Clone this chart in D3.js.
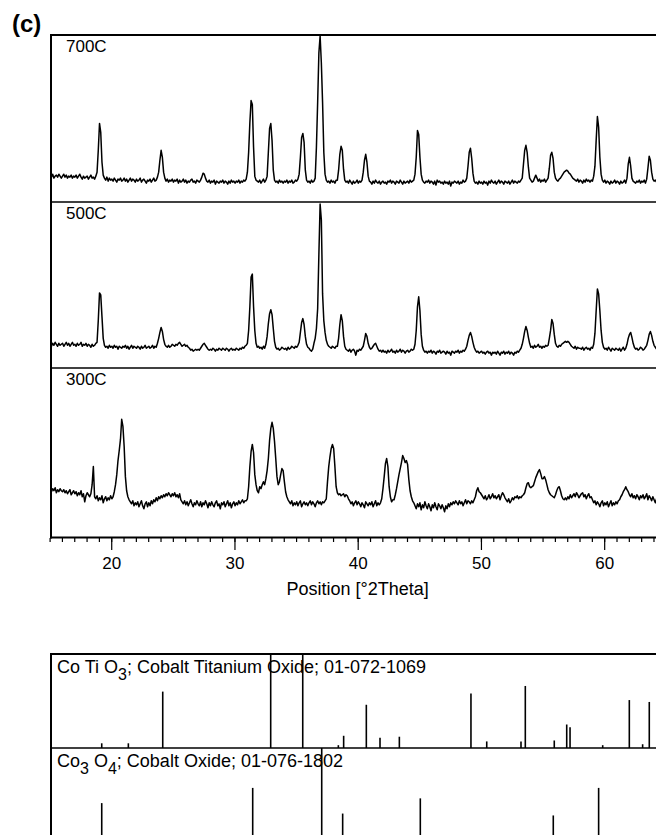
<!DOCTYPE html>
<html>
<head>
<meta charset="utf-8">
<script src="https://cdn.jsdelivr.net/npm/d3@7"></script>
<style>
  body { margin: 0; background: #fff; }
  svg { display: block; font-family: Arial, "Liberation Sans", sans-serif; }
  text { white-space: pre; }
</style>
</head>
<body>
<svg id="chart" width="656" height="835"></svg>
<script>
// scan grid: first angle and step in degrees 2theta
var angleStart = 15.05, angleStep = 0.1;
var countMax = 168;

// counts, one line per degree (x.0 ... x.9)
var scan700 = [
  27,25,28,24,26,27,25,28,26,24,
  26,28,25,27,24,26,25,27,24,26,
  25,27,24,26,28,25,23,26,24,25,
  26,23,25,27,24,25,23,26,30,52,
  79,70,40,27,24,22,25,21,24,22,
  23,21,24,22,20,23,22,24,21,22,
  24,21,23,20,22,24,21,23,22,20,
  23,21,22,24,20,22,23,21,19,22,
  21,23,20,22,24,21,22,25,30,42,
  52,45,30,24,21,23,20,22,21,23,
  20,22,21,23,19,22,20,21,23,20,
  22,19,21,20,22,23,20,21,19,22,
  21,20,22,25,29,28,24,21,20,22,
  19,21,20,22,18,21,20,19,21,20,
  22,19,21,20,18,21,19,22,20,21,
  19,21,20,22,19,21,20,22,21,23,
  30,50,80,102,98,55,26,22,21,20,
  22,19,21,23,20,22,26,50,74,79,
  62,32,22,20,21,19,22,20,21,19,
  21,20,22,19,21,20,22,19,20,22,
  21,23,28,45,65,69,60,32,22,20,
  21,19,22,20,21,24,55,100,150,167,
  140,100,50,28,22,20,21,19,22,20,
  21,19,22,22,32,48,56,52,33,22,
  20,21,19,22,20,18,21,19,20,22,
  19,21,20,22,30,42,48,40,26,21,
  20,18,21,19,22,20,19,21,18,20,
  21,19,20,18,21,20,22,19,21,20,
  18,21,20,19,22,20,18,21,19,20,
  21,19,22,20,21,22,28,45,72,68,
  45,28,22,20,19,21,20,22,19,21,
  20,18,21,17,22,20,21,19,20,18,
  21,19,20,18,21,16,20,19,21,20,
  19,21,18,20,19,22,20,21,24,36,
  50,54,44,29,21,19,20,18,21,19,
  20,18,21,19,20,17,21,19,22,20,
  19,21,18,20,22,19,21,20,18,21,
  20,19,21,18,20,22,19,21,20,19,
  21,20,22,24,38,52,57,50,35,24,
  22,20,21,24,27,24,21,23,20,22,
  21,23,20,22,24,34,47,50,44,30,
  24,22,21,23,24,26,28,30,31,32,
  31,29,28,26,24,23,22,21,23,20,
  22,21,19,22,20,23,21,22,20,22,
  21,26,36,62,86,75,45,28,22,20,
  22,19,21,20,18,21,19,20,22,19,
  21,20,18,21,19,20,22,19,24,38,
  45,36,24,21,20,19,21,20,22,19,
  21,20,22,19,23,34,46,42,30,23,
  21,22,20,19,21,22,20,21,19,22
];

var scan500 = [
  24,22,25,23,26,24,22,25,23,24,
  25,22,24,26,23,25,22,24,26,23,
  24,22,25,23,24,26,22,24,23,25,
  22,24,23,21,24,22,23,25,26,48,
  76,74,52,30,23,21,22,20,23,21,
  22,20,23,21,22,19,22,21,20,22,
  21,23,20,22,19,21,23,20,22,21,
  20,22,21,19,22,20,21,23,20,21,
  22,20,21,23,20,22,21,25,30,36,
  41,37,29,24,22,21,23,21,22,24,
  23,22,24,23,25,26,24,22,23,24,
  22,23,21,20,18,19,17,18,19,18,
  19,18,20,22,24,25,23,21,19,18,
  19,18,20,19,17,19,18,20,19,18,
  20,19,18,20,19,17,19,20,18,19,
  18,20,19,18,20,19,21,20,22,23,
  25,38,62,92,95,62,38,25,21,22,
  20,21,19,22,20,24,32,45,55,59,
  54,40,27,21,19,20,18,19,21,20,
  19,20,18,21,19,20,22,21,20,22,
  21,23,26,36,46,50,44,32,24,21,
  20,18,17,19,25,30,40,60,115,166,
  150,75,48,36,28,24,22,21,20,22,
  21,20,22,22,30,44,54,48,32,22,
  19,18,17,19,16,18,19,17,13,18,
  17,19,18,20,22,28,35,32,25,21,
  19,20,22,24,25,22,19,17,18,16,
  18,16,17,15,18,16,17,19,16,17,
  15,18,16,17,19,16,18,17,15,17,
  18,16,17,19,18,19,24,38,62,72,
  58,34,22,18,16,17,15,17,16,18,
  15,17,16,14,17,16,18,15,16,17,
  16,14,17,15,16,13,17,16,15,17,
  16,18,15,17,16,18,17,19,22,28,
  33,36,32,26,21,18,16,17,15,16,
  17,15,16,14,16,17,15,16,13,16,
  15,16,14,17,15,13,16,15,17,14,
  16,15,17,14,16,15,13,16,15,17,
  16,18,20,24,30,37,42,38,31,25,
  21,22,20,23,21,22,24,21,22,20,
  22,21,23,22,23,30,38,49,45,34,
  25,22,21,23,22,24,25,26,27,26,
  27,26,24,22,21,20,22,19,21,20,
  20,19,21,18,20,21,19,20,18,21,
  20,24,35,58,80,75,58,38,26,21,
  19,20,18,21,19,17,20,19,18,20,
  19,18,20,17,19,21,18,20,24,30,
  34,36,31,25,21,19,20,18,19,21,
  20,18,19,21,23,28,34,37,33,27,
  23,21,19,20,18,21,19,20,18,19
];

var scan300 = [
  47,45,48,46,49,44,47,45,48,46,
  45,47,44,46,43,45,47,42,44,46,
  43,45,41,44,42,46,40,43,35,41,
  44,42,40,43,52,70,40,38,41,36,
  39,37,41,34,38,40,36,39,37,41,
  38,40,45,52,62,76,86,97,117,110,
  90,60,46,40,37,35,33,36,31,34,
  32,35,30,33,36,31,28,33,35,30,
  34,31,36,33,37,35,39,36,40,38,
  41,39,42,40,43,41,44,42,40,43,
  41,44,40,42,39,43,37,35,33,36,
  32,35,31,34,37,33,30,34,32,36,
  33,31,35,30,34,32,36,33,29,34,
  31,35,32,30,34,36,31,33,28,34,
  32,35,30,33,36,31,34,29,33,35,
  31,34,32,36,33,35,37,34,36,36,
  38,50,70,85,92,84,62,52,46,44,
  50,48,52,55,52,58,66,78,96,108,
  114,108,95,78,60,52,55,62,68,66,
  55,45,40,37,35,33,36,31,34,32,
  35,31,34,36,30,33,35,32,34,31,
  34,36,32,35,33,30,34,36,33,35,
  32,35,34,36,38,55,70,80,88,92,
  88,70,50,44,42,43,41,42,43,40,
  42,41,38,36,33,35,31,34,36,32,
  35,33,30,34,32,29,35,33,31,34,
  32,35,30,33,36,31,34,32,34,38,
  48,60,73,78,70,50,40,35,37,37,
  42,48,55,62,68,74,81,78,74,76,
  72,57,46,40,36,34,31,28,33,30,
  34,27,32,29,35,31,28,33,30,26,
  32,29,34,30,27,33,31,28,32,29,
  25,31,28,33,30,34,32,35,33,36,
  34,32,36,33,35,31,34,37,33,36,
  35,33,36,34,37,40,46,49,45,44,
  42,40,38,41,37,39,42,38,40,43,
  39,41,38,40,42,37,41,44,42,39,
  37,35,38,34,36,39,37,40,39,41,
  38,40,39,41,42,44,49,53,54,50,
  49,50,51,55,59,62,65,67,63,58,
  58,60,57,52,47,44,42,41,40,39,
  42,46,49,50,46,41,38,37,39,37,
  40,38,42,39,41,43,40,44,42,39,
  41,43,44,40,42,38,41,43,39,40,
  37,34,36,32,35,33,30,34,36,31,
  34,32,35,30,33,36,31,34,32,35,
  33,36,37,40,42,45,47,50,47,45,
  42,40,43,39,41,38,42,40,37,41,
  39,42,38,40,43,37,41,39,36,40,
  37,34,38,35,33,36,34,37,35,34
];

var scanLabels = ['700C', '500C', '300C'];
var xTicks = [20, 30, 40, 50, 60];
var xTitle = 'Position [\u00b02Theta]';

// reference patterns: stick positions and relative intensity (%)
var cotio3Angles = [19.23, 21.39, 24.18, 32.94, 35.54, 38.43, 38.86, 40.70, 41.81, 43.38, 49.19,
                    50.47, 53.25, 53.60, 55.95, 56.96, 57.23, 59.88, 62.04, 63.12, 63.66];
var cotio3Rel = [5, 5, 60, 100, 100, 3, 13, 46, 11, 12, 58, 7, 7, 66, 8, 25, 22, 3, 51, 4, 49];
var co3o4Angles = [19.23, 31.48, 37.08, 38.78, 45.08, 55.87, 59.55];
var co3o4Rel = [42, 58, 100, 31, 47, 29, 58];

// name pieces: [text, isSubscript]
var cotio3Name = [['Co Ti O', 0], ['3', 1], ['; Cobalt Titanium Oxide; 01-072-1069', 0]];
var co3o4Name = [['Co', 0], ['3', 1], [' O', 0], ['4', 1], ['; Cobalt Oxide; 01-076-1802', 0]];

var width = 656, height = 835;
var axisX = 51;
var svg = d3.select('#chart');
var defs = svg.append('defs');

var x = d3.scaleLinear().domain([15, 65]).range([49.6, 665.8]);

var scanPanels = [
  { data: scan700, label: scanLabels[0], top: 35, bottom: 202 },
  { data: scan500, label: scanLabels[1], top: 202, bottom: 368 },
  { data: scan300, label: scanLabels[2], top: 368, bottom: 537 }
];

scanPanels.forEach(function(p, i){
  var y = d3.scaleLinear().domain([0, countMax]).range([p.bottom, p.top]);
  defs.append('clipPath').attr('id', 'scanclip' + i).append('rect')
    .attr('x', axisX).attr('y', p.top - 2)
    .attr('width', width).attr('height', p.bottom - p.top + 2);
  var line = d3.line()
    .x(function(d, j){ return x(angleStart + j * angleStep); })
    .y(function(d){ return y(d); });
  svg.append('path').datum(p.data)
    .attr('clip-path', 'url(#scanclip' + i + ')')
    .attr('d', line)
    .attr('fill', 'none')
    .attr('stroke', '#000')
    .attr('stroke-width', 1.5)
    .attr('stroke-linejoin', 'round');
  svg.append('text')
    .attr('x', 66).attr('y', p.top + 17)
    .attr('font-size', 17)
    .text(p.label);
});

// frame of the scans
svg.append('line').attr('x1', 50).attr('x2', width).attr('y1', 35).attr('y2', 35)
  .attr('stroke', '#000').attr('stroke-width', 2);
[202, 368].forEach(function(yy){
  svg.append('line').attr('x1', 50).attr('x2', width).attr('y1', yy).attr('y2', yy)
    .attr('stroke', '#000').attr('stroke-width', 1.3);
});
svg.append('line').attr('x1', 50).attr('x2', width).attr('y1', 537.5).attr('y2', 537.5)
  .attr('stroke', '#000').attr('stroke-width', 2);
svg.append('line').attr('x1', axisX).attr('x2', axisX).attr('y1', 34).attr('y2', 538.5)
  .attr('stroke', '#000').attr('stroke-width', 2);

// x axis: minor ticks each degree, labelled ticks each 10
var minorAxis = svg.append('g').attr('transform', 'translate(0,538)')
  .call(d3.axisBottom(x).tickValues(d3.range(15, 65)).tickSize(4).tickFormat(''));
var majorAxis = svg.append('g').attr('transform', 'translate(0,538)')
  .call(d3.axisBottom(x).tickValues(xTicks).tickSize(12).tickPadding(7).tickFormat(d3.format('d')));
[minorAxis, majorAxis].forEach(function(g){
  g.select('.domain').remove();
  g.selectAll('line').attr('stroke', '#000').attr('stroke-width', 1.2);
  g.selectAll('text').attr('font-size', 17).attr('fill', '#000')
    .attr('font-family', 'Arial, "Liberation Sans", sans-serif');
});

svg.append('text')
  .attr('x', x(40)).attr('y', 595)
  .attr('text-anchor', 'middle')
  .attr('font-size', 18)
  .text(xTitle);

svg.append('text')
  .attr('x', 12).attr('y', 32)
  .attr('font-size', 24).attr('font-weight', 'bold')
  .text('(c)');

// reference stick patterns
var refPanels = [
  { angles: cotio3Angles, rel: cotio3Rel, name: cotio3Name, top: 654, bottom: 748 },
  { angles: co3o4Angles, rel: co3o4Rel, name: co3o4Name, top: 748, bottom: 843 }
];

refPanels.forEach(function(p, i){
  var y = d3.scaleLinear().domain([0, 100]).range([p.bottom, p.top]);
  var t = svg.append('text').attr('x', 57).attr('y', p.top + 19).attr('font-size', 18);
  var shift = 0;
  p.name.forEach(function(part){
    var s = part[1] ? 7 : 0;
    t.append('tspan')
      .attr('dy', s - shift)
      .attr('font-size', part[1] ? 16 : 18)
      .text(part[0]);
    shift = s;
  });
  svg.append('g').selectAll('line')
    .data(d3.zip(p.angles, p.rel))
    .enter().append('line')
    .attr('x1', function(d){ return x(d[0]); })
    .attr('x2', function(d){ return x(d[0]); })
    .attr('y1', y(0))
    .attr('y2', function(d){ return y(d[1]); })
    .attr('stroke', '#000')
    .attr('stroke-width', 1.6);
});

svg.append('line').attr('x1', 50).attr('x2', width).attr('y1', 654).attr('y2', 654)
  .attr('stroke', '#000').attr('stroke-width', 2);
svg.append('line').attr('x1', 50).attr('x2', width).attr('y1', 748).attr('y2', 748)
  .attr('stroke', '#000').attr('stroke-width', 1.5);
svg.append('line').attr('x1', axisX).attr('x2', axisX).attr('y1', 653).attr('y2', height)
  .attr('stroke', '#000').attr('stroke-width', 2);
</script>
</body>
</html>
